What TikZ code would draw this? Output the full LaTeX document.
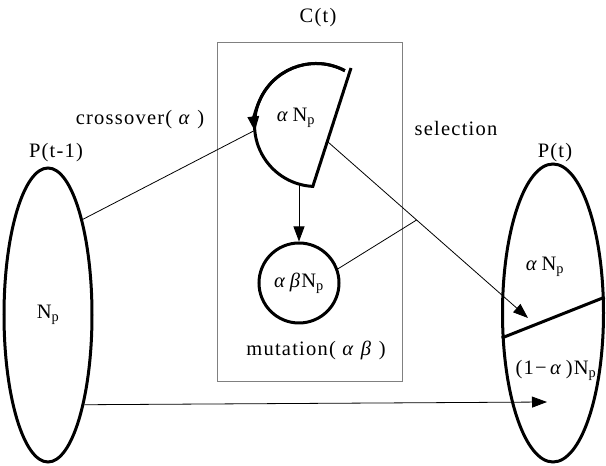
\documentclass[tikz,border=0pt]{standalone}
\usepackage{fontspec}
\setmainfont{Liberation Serif}[LetterSpace=6]
\usetikzlibrary{arrows.meta,shapes.geometric}

\begin{document}
\begin{tikzpicture}[x=1pt,y=1pt,
  every node/.style={font=\fontsize{20.5}{23}\selectfont, inner sep=0pt},
  pop/.style={ellipse, draw, line width=3pt},
  bold/.style={line width=3pt},
  thin line/.style={line width=0.8pt},
  arr/.style={-{Triangle[length=15pt,width=11pt]}}]
\useasboundingbox (0,0) rectangle (606,466);

% the two populations
\node at (48,151) (prev)[pop, minimum width=88, minimum height=294]{N\textsubscript{p}};
\node at (553,153) (cur)[pop, minimum width=101, minimum height=298]{};
\draw[bold] (cur.206) -- (cur.17);
\node at (56,313) (prevlbl) {P(t-1)};
\node at (555,313) (curlbl) {P(t)};
\node at (545,199) (curA) {\textit{α}\,N\textsubscript{p}};
\node at (556,96) (curB) {(1−\,\textit{α}\,)N\textsubscript{p}};

% C(t) box
\draw[gray, line width=0.6pt] (217,85) rectangle (402,424);
\node at (318,448) (ctlbl) {C(t)};

% crossover part
\coordinate (sectop) at (351,398);
\coordinate (secbot) at (312.8,279.6);
\coordinate (secfoot) at (299,281.6);
\coordinate (xin) at (254.7,335.6);
\draw[bold] (344.9,395.3) arc[start angle=62, end angle=267, radius=61.5] -- (sectop);
\draw[bold, arr] (344.9,395.3) arc[start angle=62, end angle=186, radius=61.5];
\node at (296,348) (secN) {\textit{α}\,N\textsubscript{p}};
\node at (140,346) (xlbl) {crossover( \textit{α} )};
\draw[thin line] (prev.70) -- (xin);

% mutation part
\node at (299,183) (mut)[circle, draw, bold, minimum size=80]{\textit{α}\,\textit{β}N\textsubscript{p}};
\node at (316,116) (mutlbl) {mutation( \textit{α} \textit{β} )};
\draw[thin line, arr] (secfoot) -- (mut.north);

% selection
\coordinate (cout) at (327.3,324.6);
\coordinate (tipA) at (528,148);
\coordinate (join) at (416.6,246.0);
\coordinate (tipB) at (547,64);
\node at (456,338) (sellbl) {selection};
\draw[thin line, arr] (cout) -- (tipA);
\draw[thin line] (mut.20) -- (join);
\draw[thin line, arr] (prev.-68) -- (tipB);
\end{tikzpicture}
\end{document}
